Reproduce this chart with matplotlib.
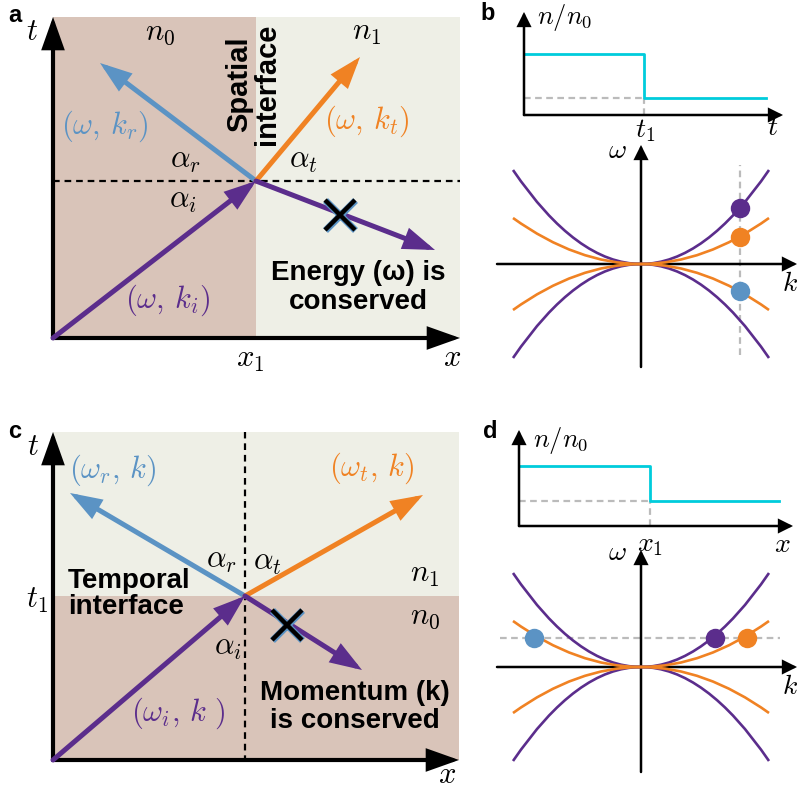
import numpy as np
import matplotlib
matplotlib.use('Agg')
import matplotlib.pyplot as plt
from matplotlib.path import Path
from matplotlib.patches import PathPatch
import matplotlib.patheffects as pe

plt.rcParams['mathtext.fontset'] = 'cm'
plt.rcParams['font.family'] = ['Liberation Sans', 'DejaVu Sans']

W, H = 797, 790

PURPLE = '#5b2d8c'
BLUE = '#5b93c4'
ORANGE = '#f08223'
CYAN = '#00ccdc'
GREY = '#bbbbbb'
BROWN = '#d9c4b9'
PALE = '#eeefe6'

# --- panel a: spatial interface, (x, t) plane ---
a_xmax, a_tmax = 4.07, 3.21
a_x1 = 2.03                 # interface position
a_hit = (2.03, 1.57)        # where the incident ray meets the interface
a_start = (0.0, 0.0)
a_refl_tip = (0.47, 2.75)
a_trans_tip = (3.07, 2.81)
a_forbid_tip = (3.82, 0.88)
a_cross = (2.87, 1.23)

# --- panel c: temporal interface, (x, t) plane ---
c_xmax, c_tmax = 4.06, 3.28
c_t1 = 1.64
c_hit = (1.92, 1.64)
c_start = (0.0, 0.0)
c_refl_tip = (0.17, 2.67)
c_trans_tip = (3.70, 2.65)
c_forbid_tip = (3.09, 0.90)
c_cross = (2.34, 1.35)

# --- panels b/d top: refractive index step ---
b_t = [0.0, 1.0, 2.02]
b_n = [1.0, 0.28, 0.28]
b_lim = (2.16, 1.69)
d_x = [0.0, 1.0, 1.98]
d_n = [1.0, 0.42, 0.42]
d_lim = (2.09, 1.60)

# --- dispersion panels: parabola end points (k_end, omega_end) ---
disp_k_end = 1.28
purple_w_end = 0.94
orange_w_end = 0.46
k_lim = (-1.44, 1.56)
b_w_lim = (-1.03, 1.19)
d_w_lim = (-1.05, 1.17)

# b: fixed k, three omegas
b_k_cut = 0.99
b_dot_k = [0.99, 0.99, 0.99]
b_dot_w = [0.56, 0.27, -0.27]
b_dot_c = [PURPLE, ORANGE, BLUE]
b_cut_w = (-0.91, 0.99)

# d: fixed omega, three k
d_w_cut = 0.29
d_dot_k = [-1.07, 0.74, 1.06]
d_dot_w = [0.29, 0.29, 0.29]
d_dot_c = [BLUE, PURPLE, ORANGE]
d_cut_k = (-1.41, 1.39)

fig = plt.figure(figsize=(W / 100, H / 100), dpi=100)


def px_axes(left, top, right, bottom, xlim, ylim):
    ax = fig.add_axes([left / W, 1 - bottom / H, (right - left) / W, (bottom - top) / H])
    ax.set_xlim(*xlim)
    ax.set_ylim(*ylim)
    ax.axis('off')
    return ax


def arrow(ax, start, end, color, lw, hl, hw, ms=20, z=3):
    ax.annotate('', xy=end, xytext=start, annotation_clip=False,
                arrowprops=dict(arrowstyle=f'-|>,head_length={hl},head_width={hw}',
                                color=color, lw=lw, shrinkA=0, shrinkB=0,
                                mutation_scale=ms, joinstyle='miter', clip_on=False),
                zorder=z)


def cross(ax, pos):
    ax.plot([pos[0]], [pos[1]], marker='x', ms=22, mew=3.2, color='k', ls='none',
            clip_on=False, zorder=6,
            path_effects=[pe.Stroke(linewidth=5, foreground=BLUE), pe.Normal()])


def parabola(ax, kend, wend, color):
    for s in (1, -1):
        verts = [(-kend, s * wend), (-kend / 2, 0), (0, 0), (kend / 2, 0), (kend, s * wend)]
        codes = [Path.MOVETO, Path.CURVE3, Path.CURVE3, Path.CURVE3, Path.CURVE3]
        ax.add_patch(PathPatch(Path(verts, codes), fc='none', ec=color, lw=1.9,
                               clip_on=False, zorder=3))


def txt(ax, x, y, s, size, color='k', **kw):
    ax.text(x, y, s, fontsize=size, color=color, ha=kw.pop('ha', 'center'),
            va=kw.pop('va', 'center'), clip_on=False, **kw)


MATH = 22
BOLD = 20
SMALL = 20

# ================= panel a =================
ax = px_axes(53, 17, 460, 338, (0, a_xmax), (0, a_tmax))
ax.axvspan(0, a_x1, ymin=0, ymax=1, color=BROWN, lw=0, zorder=0)
ax.axvspan(a_x1, a_xmax, ymin=0, ymax=1, color=PALE, lw=0, zorder=0)
ax.plot([0, a_xmax], [a_hit[1], a_hit[1]], color='k', lw=1.6, dashes=(3, 2.2), zorder=1)
arrow(ax, (0, 0), (0, a_tmax), 'k', 3, 0.9, 0.32, z=4)
arrow(ax, (0, 0), (a_xmax, 0), 'k', 3, 0.9, 0.32, z=4)
arrow(ax, a_hit, a_refl_tip, BLUE, 3.6, 0.8, 0.28)
arrow(ax, a_hit, a_trans_tip, ORANGE, 3.6, 0.8, 0.28)
arrow(ax, a_hit, a_forbid_tip, PURPLE, 3.6, 0.8, 0.28)
arrow(ax, a_start, a_hit, PURPLE, 3.6, 0.8, 0.28, z=5)
cross(ax, a_cross)
txt(ax, -0.38, 3.23, 'a', 17, weight='bold')
txt(ax, -0.21, 3.06, r'$t$', MATH)
txt(ax, 1.07, 3.06, r'$n_0$', MATH)
txt(ax, 3.14, 3.06, r'$n_1$', MATH)
txt(ax, 2.00, 2.54, 'Spatial\ninterface', 21, weight='bold', rotation=90,
    multialignment='center', linespacing=1.0)
txt(ax, 0.52, 2.12, r'$(\omega,\,k_r)$', MATH, BLUE)
txt(ax, 3.14, 2.17, r'$(\omega,\,k_t)$', MATH, ORANGE)
txt(ax, 1.32, 1.78, r'$\alpha_r$', MATH)
txt(ax, 2.50, 1.78, r'$\alpha_t$', MATH)
txt(ax, 1.30, 1.38, r'$\alpha_i$', MATH)
txt(ax, 3.05, 0.51, 'Energy (ω) is\nconserved', BOLD, weight='bold', linespacing=1.15)
txt(ax, 1.15, 0.38, r'$(\omega,\,k_i)$', MATH, PURPLE)
txt(ax, 1.97, -0.21, r'$x_1$', MATH)
txt(ax, 3.99, -0.20, r'$x$', MATH)

# ================= panel c =================
ax = px_axes(53, 432, 459, 760, (0, c_xmax), (0, c_tmax))
ax.axhspan(0, c_t1, color=BROWN, lw=0, zorder=0)
ax.axhspan(c_t1, c_tmax, color=PALE, lw=0, zorder=0)
ax.plot([c_hit[0], c_hit[0]], [-0.02, c_tmax], color='k', lw=1.6, dashes=(3, 2.2),
        zorder=1, clip_on=False)
arrow(ax, (0, 0), (0, c_tmax), 'k', 3, 0.9, 0.32, z=4)
arrow(ax, (0, 0), (c_xmax, 0), 'k', 3, 0.9, 0.32, z=4)
arrow(ax, c_hit, c_refl_tip, BLUE, 3.6, 0.8, 0.28)
arrow(ax, c_hit, c_trans_tip, ORANGE, 3.6, 0.8, 0.28)
arrow(ax, c_hit, c_forbid_tip, PURPLE, 3.6, 0.8, 0.28)
arrow(ax, c_start, c_hit, PURPLE, 3.6, 0.8, 0.28, z=5)
cross(ax, c_cross)
txt(ax, -0.38, 3.28, 'c', 17, weight='bold')
txt(ax, -0.20, 3.13, r'$t$', MATH)
txt(ax, 0.60, 2.90, r'$(\omega_r,\,k)$', MATH, BLUE)
txt(ax, 3.19, 2.92, r'$(\omega_t,\,k)$', MATH, ORANGE)
txt(ax, 1.68, 2.00, r'$\alpha_r$', MATH)
txt(ax, 2.14, 1.98, r'$\alpha_t$', MATH)
txt(ax, 0.15, 1.66, 'Temporal\ninterface', BOLD, weight='bold', ha='left',
    multialignment='left', linespacing=1.05)
txt(ax, -0.16, 1.60, r'$t_1$', MATH)
txt(ax, 3.72, 1.86, r'$n_1$', MATH)
txt(ax, 3.72, 1.44, r'$n_0$', MATH)
txt(ax, 1.75, 1.13, r'$\alpha_i$', MATH)
txt(ax, 3.02, 0.53, 'Momentum (k)\nis conserved', BOLD, weight='bold', linespacing=1.15)
txt(ax, 1.25, 0.47, r'$(\omega_i,\,k\ )$', MATH, PURPLE)
txt(ax, 3.94, -0.15, r'$x$', MATH)

# ================= panel b top =================
ax = px_axes(524, 12, 783, 115, (0, b_lim[0]), (0, b_lim[1]))
ax.plot([0, b_t[1]], [b_n[1], b_n[1]], color=GREY, lw=1.6, dashes=(3, 2), zorder=1)
ax.plot([b_t[1], b_t[1]], [0, b_n[1]], color=GREY, lw=1.6, dashes=(3, 2), zorder=1)
ax.plot(b_t, b_n, drawstyle='steps-post', color=CYAN, lw=2, zorder=2)
arrow(ax, (0, 0), (0, b_lim[1]), 'k', 1.8, 0.8, 0.4, ms=10, z=4)
arrow(ax, (0, 0), (b_lim[0], 0), 'k', 1.8, 0.8, 0.4, ms=10, z=4)
txt(ax, -0.30, 1.66, 'b', 17, weight='bold')
txt(ax, 0.11, 1.60, r'$n/n_0$', 19, ha='left')
txt(ax, 1.01, -0.26, r'$t_1$', SMALL)
txt(ax, 2.07, -0.22, r'$t$', SMALL)

# ================= panel b bottom =================
ax = px_axes(497, 145, 797, 367, k_lim, b_w_lim)
ax.plot([b_k_cut, b_k_cut], b_cut_w, color=GREY, lw=1.6, dashes=(3, 2), zorder=1)
arrow(ax, (k_lim[0], 0), (k_lim[1], 0), 'k', 1.8, 0.8, 0.4, ms=10, z=2)
arrow(ax, (0, b_w_lim[0]), (0, b_w_lim[1]), 'k', 1.8, 0.8, 0.4, ms=10, z=2)
parabola(ax, disp_k_end, purple_w_end, PURPLE)
parabola(ax, disp_k_end, orange_w_end, ORANGE)
for k, w, c in zip(b_dot_k, b_dot_w, b_dot_c):
    ax.plot([k], [w], 'o', ms=14, color=c, mec='none', zorder=5, clip_on=False)
txt(ax, -0.24, 1.13, r'$\omega$', SMALL)
txt(ax, 1.49, -0.20, r'$k$', SMALL)

# ================= panel d top =================
ax = px_axes(519, 430, 793, 526, (0, d_lim[0]), (0, d_lim[1]))
ax.plot([0, d_x[1]], [d_n[1], d_n[1]], color=GREY, lw=1.6, dashes=(3, 2), zorder=1)
ax.plot([d_x[1], d_x[1]], [0, d_n[1]], color=GREY, lw=1.6, dashes=(3, 2), zorder=1)
ax.plot(d_x, d_n, drawstyle='steps-post', color=CYAN, lw=2, zorder=2)
arrow(ax, (0, 0), (0, d_lim[1]), 'k', 1.8, 0.8, 0.4, ms=10, z=4)
arrow(ax, (0, 0), (d_lim[0], 0), 'k', 1.8, 0.8, 0.4, ms=10, z=4)
txt(ax, -0.22, 1.57, 'd', 17, weight='bold')
txt(ax, 0.11, 1.43, r'$n/n_0$', 19, ha='left')
txt(ax, 1.00, -0.32, r'$x_1$', SMALL)
txt(ax, 2.01, -0.32, r'$x$', SMALL)

# ================= panel d bottom =================
ax = px_axes(497, 550, 797, 772, k_lim, d_w_lim)
ax.plot(d_cut_k, [d_w_cut, d_w_cut], color=GREY, lw=1.6, dashes=(3, 2), zorder=1)
arrow(ax, (k_lim[0], 0), (k_lim[1], 0), 'k', 1.8, 0.8, 0.4, ms=10, z=2)
arrow(ax, (0, d_w_lim[0]), (0, d_w_lim[1]), 'k', 1.8, 0.8, 0.4, ms=10, z=2)
parabola(ax, disp_k_end, purple_w_end, PURPLE)
parabola(ax, disp_k_end, orange_w_end, ORANGE)
for k, w, c in zip(d_dot_k, d_dot_w, d_dot_c):
    ax.plot([k], [w], 'o', ms=14, color=c, mec='none', zorder=5, clip_on=False)
txt(ax, -0.24, 1.14, r'$\omega$', SMALL)
txt(ax, 1.49, -0.20, r'$k$', SMALL)

fig.savefig('out.png', dpi=100)
